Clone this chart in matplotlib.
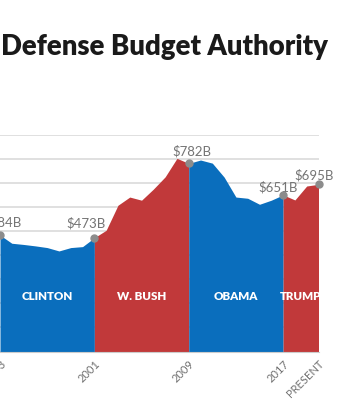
import numpy as np
import matplotlib.pyplot as plt

years = list(range(1993, 2021))
budget = [484, 450, 445, 439, 432, 418, 432, 436,
          473, 504, 608, 642, 629, 675, 726, 803,
          782, 796, 783, 725, 642, 637, 612, 629,
          651, 630, 688, 695]

presidents = ["CLINTON", "W. BUSH", "OBAMA", "TRUMP"]
terms = [(1993, 2001), (2001, 2009), (2009, 2017), (2017, 2020)]
party_colors = ["#0a6ebd", "#c1393a", "#0a6ebd", "#c1393a"]

tick_years = [1993, 2001, 2009, 2017, 2020]
tick_labels = ["1993", "2001", "2009", "2017", "PRESENT"]

# labelled points: year, text, offset in px (dx, dy)
callouts = [(1993, "$484B", (2, 13)), (2001, "$473B", (-8, 14)),
            (2009, "$782B", (3, 12)), (2017, "$651B", (-5, 8)),
            (2020, "$695B", (-4, 9))]

yrs = np.array(years)
vals = np.array(budget)

fig = plt.figure(figsize=(3.38, 4.0), dpi=100)
ax = fig.add_axes([0.0, 0.12125, 318.5 / 338, 0.54125])

for (a, b), c, name in zip(terms, party_colors, presidents):
    m = (yrs >= a) & (yrs <= b)
    ax.fill_between(yrs[m], 0, vals[m], color=c, linewidth=0, zorder=2)
    ax.text((a + b) / 2, 230, name, ha="center", va="center", color="white",
            fontsize=8.3, fontweight="heavy", family="Lato", zorder=4)

for yr, txt, (dx, dy) in callouts:
    v = budget[years.index(yr)]
    ax.plot(yr, v, "o", color="#8c8c8c", markersize=5, zorder=5, clip_on=False)
    ax.annotate(txt, (yr, v), xytext=(dx * 0.72, dy * 0.72), textcoords="offset points",
                ha="center", va="center", color="#747474", fontsize=9.5, family="Lato",
                annotation_clip=False)

ax.set_xlim(1993, 2020)
ax.set_ylim(0, 900)
ax.set_yticks(range(0, 1000, 100))
ax.set_yticklabels([])
ax.tick_params(axis="y", length=0)
ax.grid(axis="y", color="#e0e0e0", linewidth=1.4, zorder=0)
ax.set_axisbelow(True)

ax.set_xticks(tick_years)
ax.set_xticklabels(tick_labels, rotation=45, ha="right", rotation_mode="anchor",
                   color="#707070", fontsize=8, family="Lato")
ax.tick_params(axis="x", length=0, pad=5)

for s in ["top", "right", "left"]:
    ax.spines[s].set_visible(False)
ax.spines["bottom"].set_color("#cccccc")
ax.spines["bottom"].set_zorder(6)

fig.text(0.003, 0.8825, "Defense Budget Authority", ha="left", va="center",
         fontsize=19.8, fontweight="heavy", family="Lato", color="#1a1a1a")

fig.savefig("out.png", dpi=100)
